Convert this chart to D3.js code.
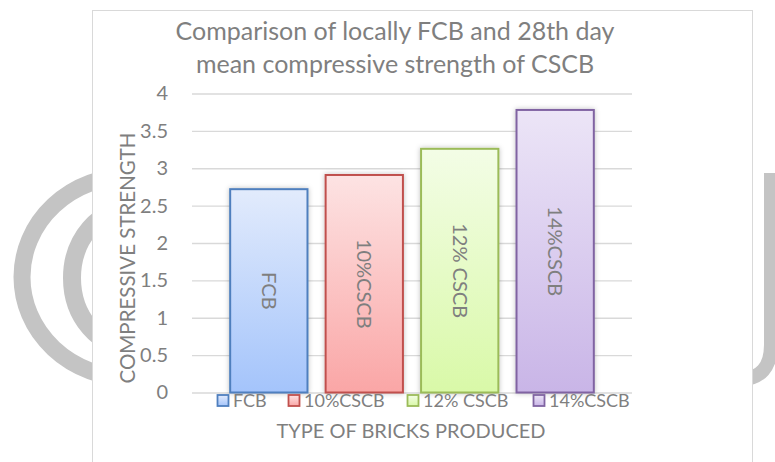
<!DOCTYPE html>
<html>
<head>
<meta charset="utf-8">
<script src="https://cdn.jsdelivr.net/npm/d3@7"></script>
<style>
  body { margin: 0; background: #fff; }
  svg { display: block; font-family: Lato, "Open Sans", sans-serif; }
</style>
</head>
<body>
<div id="chart"></div>
<script>
const series = ["FCB", "10%CSCB", "12% CSCB", "14%CSCB"];
const values = [2.72, 2.91, 3.26, 3.78];
const yTicks = [0, 0.5, 1, 1.5, 2, 2.5, 3, 3.5, 4];
const titleLines = ["Comparison of locally FCB and 28th day", "mean compressive strength of CSCB"];

const width = 775, height = 462;
const txt = "#7f7f7f";

// colours per series: [top, bottom, border]
const palette = [
  ["#e2ebfc", "#a4c4fb", "#4f7fbe"],
  ["#fde3e3", "#faa6a6", "#c0504d"],
  ["#f3fde6", "#d9f9a8", "#9bbb59"],
  ["#ece5f7", "#c9b5e7", "#8064a2"]
];

const svg = d3.select("#chart").append("svg")
  .attr("width", width)
  .attr("height", height);

const defs = svg.append("defs");
palette.forEach((p, i) => {
  const g = defs.append("linearGradient").attr("id", "grad" + i)
    .attr("x1", 0).attr("y1", 0).attr("x2", 0).attr("y2", 1);
  g.append("stop").attr("offset", "0%").attr("stop-color", p[0]);
  g.append("stop").attr("offset", "100%").attr("stop-color", p[1]);
});
const shadow = defs.append("filter").attr("id", "shadow")
  .attr("x", "-20%").attr("y", "-20%").attr("width", "140%").attr("height", "140%");
shadow.append("feDropShadow").attr("dx", 0).attr("dy", 0).attr("stdDeviation", 2.5)
  .attr("flood-color", "#000").attr("flood-opacity", 0.25);

// background watermark (rings behind the chart box)
const wm = svg.append("g").attr("fill", "none").attr("stroke", "#c4c4c4");
wm.append("ellipse").attr("cx", 130).attr("cy", 277).attr("rx", 108).attr("ry", 101).attr("stroke-width", 17);
wm.append("ellipse").attr("cx", 132).attr("cy", 278).attr("rx", 60).attr("ry", 70).attr("stroke-width", 18);
wm.append("path").attr("d", "M771,173 L771,345 Q771,378 740,380").attr("stroke-width", 14);

// chart box
svg.append("rect")
  .attr("x", 92.5).attr("y", 10.5)
  .attr("width", 660).attr("height", 470)
  .attr("fill", "#fff").attr("stroke", "#d9d9d9");

const plot = { left: 192, right: 632, top: 93.5, bottom: 392.5 };

const x = d3.scaleBand()
  .domain(series)
  .range([plot.left, plot.right])
  .paddingInner(0.19)
  .paddingOuter(0.4);

const y = d3.scaleLinear()
  .domain([0, 4])
  .range([plot.bottom, plot.top]);

// title
svg.append("text")
  .attr("x", 395).attr("y", 40)
  .attr("text-anchor", "middle")
  .attr("fill", txt)
  .style("font-size", "25px")
  .selectAll("tspan")
  .data(titleLines)
  .join("tspan")
  .attr("x", 395)
  .attr("dy", (d, i) => i === 0 ? 0 : 33)
  .text(d => d);

// gridlines + y tick labels
const yAxis = d3.axisLeft(y).tickValues(yTicks).tickSize(-(plot.right - plot.left)).tickPadding(24)
  .tickFormat(d => d);
const yg = svg.append("g")
  .attr("transform", `translate(${plot.left},0)`)
  .call(yAxis);
yg.select(".domain").remove();
yg.selectAll(".tick line").attr("stroke", "#d9d9d9").attr("stroke-width", 1.3);
yg.selectAll(".tick text").attr("fill", txt).style("font-size", "20px")
  .style("font-family", "Lato, sans-serif");

// bars
const bars = svg.append("g");
bars.selectAll("rect")
  .data(series)
  .join("rect")
  .attr("x", d => x(d))
  .attr("y", (d, i) => y(values[i]))
  .attr("width", x.bandwidth())
  .attr("height", (d, i) => y(0) - y(values[i]))
  .attr("fill", (d, i) => `url(#grad${i})`)
  .attr("stroke", (d, i) => palette[i][2])
  .attr("stroke-width", 2)
  .attr("filter", "url(#shadow)");

// labels inside bars, rotated
bars.selectAll("text")
  .data(series)
  .join("text")
  .attr("transform", (d, i) => `translate(${x(d) + x.bandwidth() / 2},${(y(values[i]) + y(0)) / 2}) rotate(90)`)
  .attr("text-anchor", "middle")
  .attr("dy", "0.35em")
  .attr("fill", txt)
  .style("font-size", "20px")
  .text(d => d);

// y axis title
svg.append("text")
  .attr("transform", "translate(128,258) rotate(-90)")
  .attr("text-anchor", "middle")
  .attr("dy", "0.35em")
  .attr("fill", txt)
  .style("font-size", "20.5px")
  .text("COMPRESSIVE STRENGTH");

// legend
const legendX = [217, 288, 407, 533];
const legend = svg.append("g")
  .selectAll("g")
  .data(series)
  .join("g")
  .attr("transform", (d, i) => `translate(${legendX[i]},401)`);
legend.append("rect")
  .attr("x", 0.5).attr("y", -6)
  .attr("width", 11).attr("height", 11)
  .attr("fill", (d, i) => `url(#grad${i})`)
  .attr("stroke", (d, i) => palette[i][2])
  .attr("stroke-width", 1.8);
legend.append("text")
  .attr("x", 16).attr("y", 0)
  .attr("dy", "0.35em")
  .attr("fill", txt)
  .style("font-size", "18px")
  .text(d => d);

// x axis title
svg.append("text")
  .attr("x", 411).attr("y", 438)
  .attr("text-anchor", "middle")
  .attr("fill", txt)
  .style("font-size", "20px")
  .text("TYPE OF BRICKS PRODUCED");
</script>
</body>
</html>
